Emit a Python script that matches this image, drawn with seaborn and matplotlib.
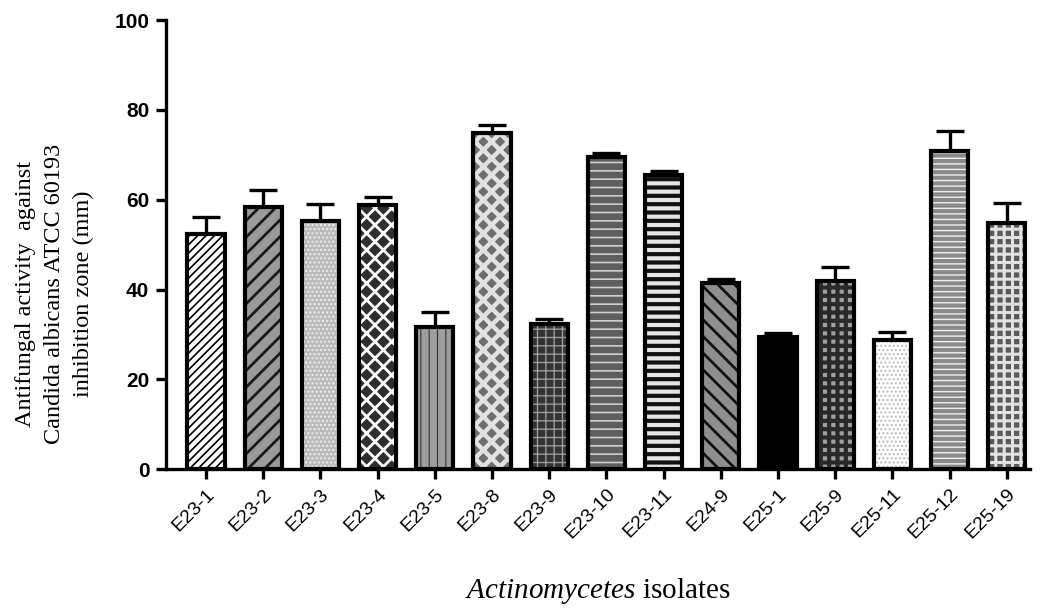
import numpy as np
import pandas as pd
import matplotlib
matplotlib.use("Agg")
import matplotlib.pyplot as plt
import seaborn as sns

# Isolates, mean inhibition zone (mm) and upper error (SD)
isolates = ["E23-1", "E23-2", "E23-3", "E23-4", "E23-5", "E23-8", "E23-9",
            "E23-10", "E23-11", "E24-9", "E25-1", "E25-9", "E25-11", "E25-12",
            "E25-19"]
zone_mm = [52.3, 58.4, 55.2, 58.8, 31.6, 74.8, 32.3, 69.5, 65.5, 41.4,
           29.4, 41.9, 28.7, 70.8, 54.8]
zone_sd = [3.8, 3.7, 3.8, 1.8, 3.4, 1.8, 1.1, 0.9, 0.9, 0.9, 0.9, 3.1,
           1.8, 4.5, 4.4]
y_ticks = [0, 20, 40, 60, 80, 100]

# Per-bar fill colour, hatch pattern, hatch colour, hatch line width
fills = ["#ffffff", "#9a9a9a", "#bdbdbd", "#2e2e2e", "#9e9e9e", "#6e6e6e",
         "#333333", "#5f5f5f", "#e6e6e6", "#8e8e8e", "#000000", "#a0a0a0",
         "#ffffff", "#8a8a8a", "#5a5a5a"]
hatches = ["////", "//", "....", "xx", "||", "xx", "++", "--", "--",
           "\\\\", "", "++", "....", "---", "++"]
hatch_cols = ["#000000", "#1a1a1a", "#eeeeee", "#ffffff", "#333333",
              "#e2e2e2", "#9a9a9a", "#d0d0d0", "#111111", "#111111",
              "#000000", "#2a2a2a", "#bbbbbb", "#f0f0f0", "#e0e0e0"]
hatch_lw = [1.2, 2.0, 1.0, 2.0, 0.8, 3.2, 1.0, 1.2, 3.0, 2.0, 1.0, 3.0,
            1.0, 1.0, 2.2]

df = pd.DataFrame({"isolate": isolates, "zone": zone_mm, "sd": zone_sd})

sns.set_style("ticks")
plt.rcParams["font.family"] = ["Liberation Sans", "DejaVu Sans"]
plt.rcParams["mathtext.fontset"] = "custom"
plt.rcParams["mathtext.rm"] = "Liberation Serif"
plt.rcParams["mathtext.it"] = "Liberation Serif:italic"
plt.rcParams["text.color"] = "black"
plt.rcParams["xtick.color"] = "black"
plt.rcParams["ytick.color"] = "black"
plt.rcParams["axes.labelcolor"] = "black"
plt.rcParams["axes.edgecolor"] = "black"

fig = plt.figure(figsize=(10.54, 6.10), dpi=100)
ax = fig.add_axes([0.1575, 0.231, 0.8195, 0.736])

bar_w = 0.65
sns.barplot(data=df, x="isolate", y="zone", hue="isolate",
            palette=fills, width=bar_w, legend=False, errorbar=None,
            saturation=1, ax=ax, zorder=2)

patches = sorted(ax.patches, key=lambda p: p.get_x())
for p, h, hc, lw in zip(patches, hatches, hatch_cols, hatch_lw):
    p.set_hatch(h)
    p.set_edgecolor(hc)
    p.set_linewidth(0)
    if hasattr(p, "set_hatch_linewidth"):
        p.set_hatch_linewidth(lw)

# Black outlines on top of the patterned fills
sns.barplot(data=df, x="isolate", y="zone", color="black", fill=False,
            width=bar_w, linewidth=3.0, errorbar=None, ax=ax, zorder=4)

# Upper-only error bars
xpos = np.arange(len(isolates))
ax.errorbar(xpos, df["zone"], yerr=[np.zeros(len(isolates)), df["sd"]],
            fmt="none", ecolor="black", elinewidth=2.4, capsize=10,
            capthick=2.4, zorder=1)

ax.set_xlim(-0.7, len(isolates) - 0.6)
ax.set_ylim(0, 100)
ax.set_yticks(y_ticks)
ax.set_yticklabels([str(t) for t in y_ticks], fontsize=15, fontweight="bold")
ax.set_xticks(xpos)
ax.set_xticklabels(isolates, rotation=45, ha="right", rotation_mode="anchor",
                   fontsize=14)

for side in ["top", "right"]:
    ax.spines[side].set_visible(False)
for side in ["left", "bottom"]:
    ax.spines[side].set_linewidth(2.4)
ax.tick_params(axis="both", width=2.4, length=7, color="black",
               labelcolor="black", pad=5)

ax.set_ylabel("Antifungal activity  against\nCandida albicans ATCC 60193\ninhibition zone (mm)",
              fontsize=17.5, family="Liberation Serif", linespacing=1.5)
ax.yaxis.set_label_coords(-0.083, 0.39)
ax.set_xlabel(r"$\mathit{Actinomycetes}$ isolates", fontsize=21,
              family="Liberation Serif", labelpad=24)

fig.savefig("out.png", dpi=100, facecolor="white")
